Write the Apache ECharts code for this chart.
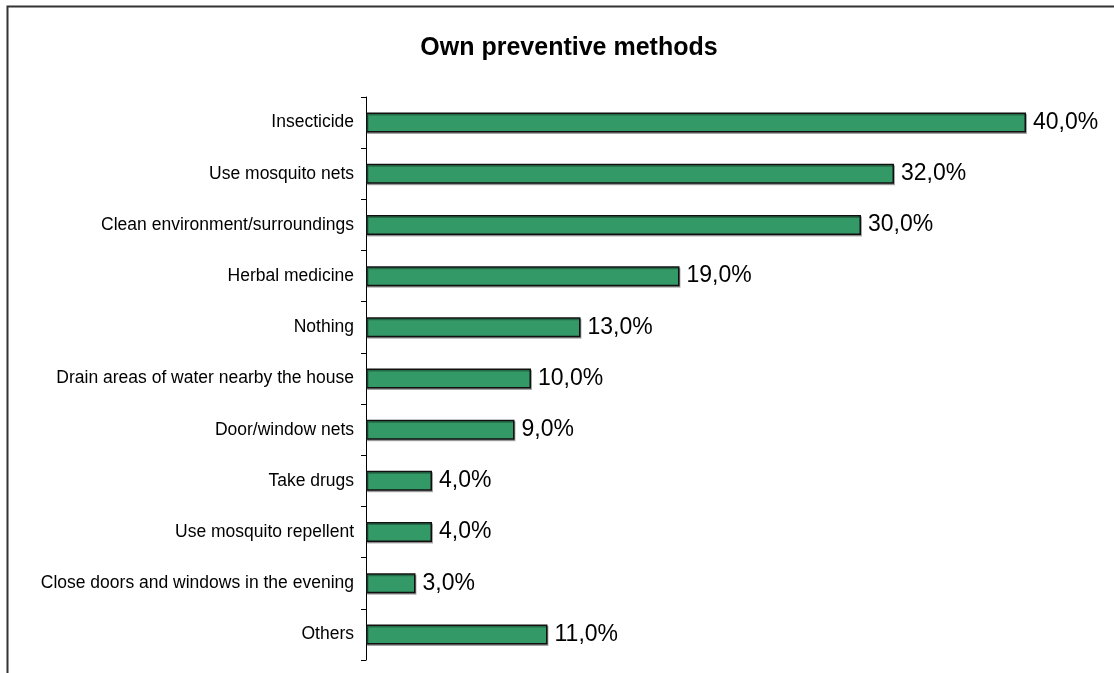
<!DOCTYPE html>
<html>
<head>
<meta charset="utf-8">
<script src="https://cdn.jsdelivr.net/npm/echarts@6/dist/echarts.min.js"></script>
<style>
  html, body { margin: 0; padding: 0; background: #fff; }
  #chart { width: 1114px; height: 673px; }
</style>
</head>
<body>
<div id="chart"></div>
<script>
// Self-reported methods used to prevent mosquito bites / malaria (share of respondents, %)
const methods = [
  'Insecticide',
  'Use mosquito nets',
  'Clean environment/surroundings',
  'Herbal medicine',
  'Nothing',
  'Drain areas of water nearby the house',
  'Door/window nets',
  'Take drugs',
  'Use mosquito repellent',
  'Close doors and windows in the evening',
  'Others'
];
const shares = [40, 32, 30, 19, 13, 10, 9, 4, 4, 3, 11];

const chart = echarts.init(document.getElementById('chart'));

const fmtPct = v => v.toFixed(1).replace('.', ',') + '%';

chart.setOption({
  backgroundColor: '#ffffff',
  animation: false,
  textStyle: { fontFamily: 'Liberation Sans, Arial, sans-serif' },
  title: {
    text: 'Own preventive methods',
    left: 564,
    textAlign: 'center',
    top: 31,
    textStyle: {
      fontFamily: 'Liberation Sans, Arial, sans-serif',
      fontSize: 25,
      fontWeight: 'bold',
      color: '#000'
    }
  },
  graphic: [{
    type: 'rect',
    shape: { x: 7.5, y: 6.5, width: 1300, height: 1000 },
    style: { fill: 'none', stroke: '#333333', lineWidth: 2 },
    silent: true
  }],
  grid: { left: 366, right: 88, top: 97, bottom: 13, containLabel: false },
  xAxis: {
    type: 'value',
    min: 0,
    max: 40,
    show: false
  },
  yAxis: {
    type: 'category',
    data: methods,
    inverse: true,
    axisLine: { show: true, lineStyle: { color: '#000', width: 1 } },
    axisTick: { show: true, length: 5, lineStyle: { color: '#000' } },
    axisLabel: {
      color: '#000',
      fontSize: 17.5,
      margin: 12,
      fontFamily: 'Liberation Sans, Arial, sans-serif'
    },
    splitLine: { show: false }
  },
  series: [{
    type: 'bar',
    data: shares,
    barWidth: 20,
    itemStyle: {
      color: '#339966',
      borderColor: '#111111',
      borderWidth: 1.5,
      shadowColor: 'rgba(0,0,0,0.3)',
      shadowOffsetX: 1,
      shadowOffsetY: 1.5,
      shadowBlur: 0
    },
    label: {
      show: true,
      position: 'right',
      distance: 7,
      color: '#000',
      fontSize: 23,
      fontFamily: 'Liberation Sans, Arial, sans-serif',
      formatter: p => fmtPct(p.value)
    }
  }]
});
</script>
</body>
</html>
